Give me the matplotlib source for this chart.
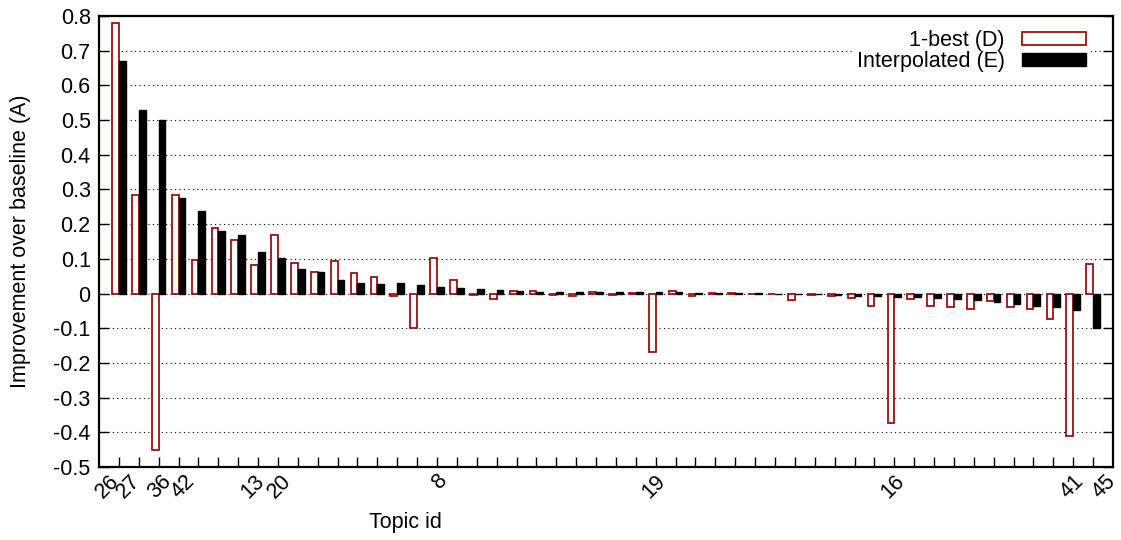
import numpy as np
import matplotlib
matplotlib.use('Agg')
import matplotlib.pyplot as plt
from matplotlib.transforms import offset_copy

plt.rcParams['font.family'] = ['Liberation Sans', 'DejaVu Sans']

# Improvement over baseline per topic (sorted by interpolated gain)
best_d = [0.779, 0.285, -0.452, 0.283, 0.097, 0.188, 0.154, 0.083, 0.170, 0.088,
          0.063, 0.093, 0.058, 0.048, -0.006, -0.099, 0.101, 0.038, -0.003, -0.017,
          0.006, 0.006, -0.003, -0.008, 0.003, -0.003, 0.002, -0.168, 0.006, -0.007,
          0.001, 0.001, -0.002, -0.002, -0.019, -0.003, -0.006, -0.013, -0.035, -0.372,
          -0.017, -0.037, -0.039, -0.044, -0.021, -0.040, -0.046, -0.072, -0.412, 0.084]
interp_e = [0.671, 0.530, 0.500, 0.276, 0.238, 0.181, 0.168, 0.119, 0.103, 0.071,
            0.062, 0.038, 0.031, 0.028, 0.029, 0.025, 0.018, 0.016, 0.013, 0.011,
            0.007, 0.004, 0.005, 0.005, 0.003, 0.004, 0.004, 0.004, 0.003, 0.002,
            0.002, 0.001, 0.001, -0.001, -0.002, -0.002, -0.003, -0.006, -0.006, -0.010,
            -0.010, -0.012, -0.017, -0.020, -0.025, -0.031, -0.036, -0.038, -0.048, -0.099]

# only some topics get a label on the x axis (positions as they sit in the original)
label_pos = [0.05, 1.09, 2.68, 3.85, 7.37, 8.71, 16.53, 27.55, 39.54, 48.56, 50.16]
label_text = ['26', '27', '36', '42', '13', '20', '8', '19', '16', '41', '45']

yticks = np.round(np.arange(-0.5, 0.81, 0.1), 1)

fig = plt.figure(figsize=(11.21, 5.40), dpi=100)
ax = fig.add_axes([99 / 1121, 1 - 467 / 540, 1014 / 1121, 451 / 540])

x = np.arange(len(best_d))
w = 0.34
ax.bar(x - w / 2, best_d, w, color='white', edgecolor='#9b1111', linewidth=1.3,
       label='1-best (D)', zorder=3)
ax.bar(x + w / 2, interp_e, w, color='black', edgecolor='black', linewidth=1.0,
       label='Interpolated (E)', zorder=3)

ax.set_xlim(-1, 50)
ax.set_ylim(-0.5, 0.8)
ax.set_yticks(yticks)
ax.set_yticklabels(['0' if v == 0 else f'{v:g}' for v in yticks], fontsize=15.5)

ax.set_xticks(x)
ax.set_xticklabels([])

# rotated topic labels, right end of the baseline at the label position
trans = offset_copy(ax.get_xaxis_transform(), fig=fig, y=-15, units='dots')
for p, t in zip(label_pos, label_text):
    ax.text(p, 0, t, transform=trans, fontsize=15.5, rotation=45, ha='right',
            va='baseline', rotation_mode='anchor', clip_on=False)

ax.tick_params(axis='both', direction='in', length=7, width=1.0)
ax.tick_params(axis='y', right=True, pad=6)

for s in ax.spines.values():
    s.set_linewidth(1.6)

ax.yaxis.grid(True, linestyle=(0, (1, 3)), color='black', linewidth=0.8, zorder=0)
ax.set_axisbelow(True)

ax.set_ylabel('Improvement over baseline (A)', fontsize=15.5, labelpad=16)
ax.set_xlabel('Topic id', fontsize=15.5)
ax.xaxis.set_label_coords(0.302, -0.10)

leg = ax.legend(loc='upper right', bbox_to_anchor=(0.978, 0.978), markerfirst=False,
                fontsize=15.5, frameon=True, fancybox=False, borderaxespad=0,
                borderpad=0.2, handlelength=3.0, handleheight=0.55,
                handletextpad=0.8, labelspacing=0.0)
leg.get_frame().set_facecolor('white')
leg.get_frame().set_edgecolor('none')
leg.get_frame().set_alpha(1)
for t in leg.get_texts():
    t.set_ha('right')

fig.savefig('out.png', dpi=100)
